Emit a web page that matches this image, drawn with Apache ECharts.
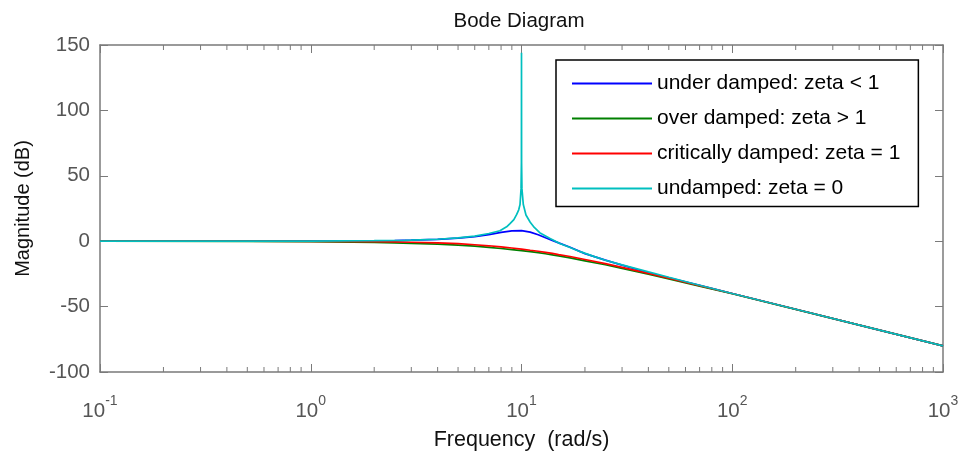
<!DOCTYPE html>
<html>
<head>
<meta charset="utf-8">
<script src="https://cdn.jsdelivr.net/npm/echarts@6/dist/echarts.min.js"></script>
<style>
  html, body { margin: 0; padding: 0; background: #fff; }
  #chart { width: 963px; height: 461px; }
</style>
</head>
<body>
<div id="chart"></div>
<script>
// Frequency samples (rad/s) shared by the damped responses
const freqDamped = [0.1, 0.5, 1, 2, 2.5, 3, 4, 5, 6, 7, 8, 9, 10, 11, 12, 13, 14, 15, 17, 20, 25, 30, 40, 50, 70, 100, 200, 500, 1000];

// Magnitude (dB) for each damping case
const underDamped = [0, 0, 0.1, 0.3, 0.5, 0.8, 1.4, 2.3, 3.5, 5, 6.7, 7.9, 8.1, 6.9, 4.9, 2.6, 0.6, -1.3, -4.6, -9.5, -14.5, -18.3, -24.1, -28, -33.8, -40, -52, -68, -80];
const overDamped = [0, -0.1, -0.3, -1, -1.3, -1.6, -2.2, -3, -3.8, -4.7, -5.6, -6.4, -7.2, -8, -8.8, -9.6, -10.4, -11.2, -12.8, -15, -18, -20.8, -25.2, -28.8, -34.3, -40.2, -52.1, -68, -80];
const criticallyDamped = [0, 0, -0.1, -0.3, -0.5, -0.8, -1.3, -1.9, -2.7, -3.5, -4.3, -5.2, -6, -6.9, -7.7, -8.5, -9.3, -10.2, -11.7, -14, -17.2, -20, -24.6, -28.3, -34, -40, -52, -68, -80];

// Undamped response, sampled more densely around the resonance
const freqUndamped = [0.1, 0.5, 1, 2, 2.8, 3, 4, 5, 6, 7, 7.9, 8.5, 8.82, 9.2, 9.49, 9.7, 9.84, 9.95, 9.99, 10, 10.01, 10.05, 10.2, 10.5, 11, 11.5, 12.2, 13.6, 15.2, 17, 19, 22, 25, 30, 40, 50, 70, 100, 200, 500, 1000];
const unDamped = [0, 0, 0.1, 0.4, 0.7, 0.8, 1.5, 2.5, 3.9, 5.9, 8, 11, 13.5, 16.5, 20.5, 24, 28, 40, 60, 144, 60, 40, 28, 20, 14.5, 10.5, 6.5, 2.3, -1.8, -4.8, -8, -11.6, -14.6, -18.1, -23.5, -27.6, -33.7, -40, -52, -68, -80];

const seriesNames = ['under damped: zeta < 1', 'over damped: zeta > 1', 'critically damped: zeta = 1', 'undamped: zeta = 0'];
const seriesColors = ['#0000ff', '#008000', '#ff0000', '#00bfbf'];

// Axis settings
const xMin = 0.1, xMax = 1000;
const yMin = -100, yMax = 150, yStep = 50;
const minorTicks = [];
[0.1, 1, 10, 100].forEach(d => { for (let k = 2; k <= 9; k++) minorTicks.push(d * k); });

const FONT = "'Liberation Sans', Arial, Helvetica, sans-serif";
const AXIS_GRAY = '#7a7a7a';

function pairs(xs, ys) { return xs.map((x, i) => [x, ys[i]]); }

function lineSeries(name, color, xs, ys) {
  return {
    name: name,
    type: 'line',
    data: pairs(xs, ys),
    symbol: 'none',
    showSymbol: false,
    sampling: null,
    lineStyle: { color: color, width: 1.7 },
    itemStyle: { color: color },
    xAxisIndex: 0,
    yAxisIndex: 0,
    z: 3
  };
}

const chart = echarts.init(document.getElementById('chart'), null, { renderer: 'canvas' });

const hiddenAxisLabel = { show: false };
const tickStyle = { show: true, inside: true, length: 8, lineStyle: { color: AXIS_GRAY, width: 1 } };
const lineStyle = { show: true, onZero: false, lineStyle: { color: AXIS_GRAY, width: 1.5 } };

chart.setOption({
  animation: false,
  backgroundColor: '#ffffff',
  title: {
    text: 'Bode Diagram',
    left: 514,
    top: 6,
    textAlign: 'center',
    textStyle: { fontFamily: FONT, fontSize: 20.5, fontWeight: 'normal', color: '#111' }
  },
  grid: { left: 100, right: 20, top: 45, bottom: 89, containLabel: false },
  legend: {
    data: seriesNames.map((n, i) => ({ name: n, icon: 'rect', itemStyle: { color: seriesColors[i] } })),
    orient: 'vertical',
    left: 556,
    top: 60,
    itemWidth: 80,
    itemHeight: 2,
    itemGap: 14,
    padding: [13, 18, 7.5, 16],
    backgroundColor: '#ffffff',
    borderColor: '#000000',
    borderWidth: 1.5,
    borderRadius: 0,
    textStyle: { fontFamily: FONT, fontSize: 21, lineHeight: 21, color: '#000' },
    z: 10
  },
  xAxis: [
    {
      type: 'log',
      logBase: 10,
      min: xMin,
      max: xMax,
      position: 'bottom',
      name: 'Frequency  (rad/s)',
      nameLocation: 'middle',
      nameGap: 57,
      nameTextStyle: { fontFamily: FONT, fontSize: 21.5, color: '#111' },
      axisLine: lineStyle,
      axisTick: tickStyle,
      splitLine: { show: false },
      axisLabel: {
        margin: 22,
        formatter: function (v) {
          const e = Math.round(Math.log10(v));
          return '{b|10}{e|' + e + '}';
        },
        rich: {
          b: { fontFamily: FONT, fontSize: 20.5, color: '#555', lineHeight: 34 },
          e: { fontFamily: FONT, fontSize: 14, color: '#555', verticalAlign: 'top', lineHeight: 14 }
        }
      }
    },
    {
      type: 'log',
      logBase: 10,
      min: xMin,
      max: xMax,
      position: 'top',
      axisLine: lineStyle,
      axisTick: tickStyle,
      axisLabel: hiddenAxisLabel,
      splitLine: { show: false }
    }
  ],
  yAxis: [
    {
      type: 'value',
      min: yMin,
      max: yMax,
      interval: yStep,
      position: 'left',
      name: 'Magnitude (dB)',
      nameLocation: 'middle',
      nameGap: 67,
      nameTextStyle: { fontFamily: FONT, fontSize: 20, color: '#111' },
      axisLine: lineStyle,
      axisTick: tickStyle,
      splitLine: { show: false },
      axisLabel: { margin: 10, fontFamily: FONT, fontSize: 20.5, color: '#555' }
    },
    {
      type: 'value',
      min: yMin,
      max: yMax,
      interval: yStep,
      position: 'right',
      axisLine: lineStyle,
      axisTick: tickStyle,
      axisLabel: hiddenAxisLabel,
      splitLine: { show: false }
    }
  ],
  series: [
    {
      // minor decade ticks (2..9) along the bottom and top edges
      type: 'custom',
      silent: true,
      xAxisIndex: 0,
      yAxisIndex: 0,
      data: minorTicks.map(v => [v, yMin]),
      encode: { x: 0, y: 1 },
      clip: false,
      z: 1,
      renderItem: function (params, api) {
        const v = api.value(0);
        const pb = api.coord([v, yMin]);
        const pt = api.coord([v, yMax]);
        const st = { stroke: AXIS_GRAY, lineWidth: 1 };
        return {
          type: 'group',
          children: [
            { type: 'line', shape: { x1: pb[0], y1: pb[1], x2: pb[0], y2: pb[1] - 5 }, style: st },
            { type: 'line', shape: { x1: pt[0], y1: pt[1], x2: pt[0], y2: pt[1] + 5 }, style: st }
          ]
        };
      }
    },
    lineSeries(seriesNames[0], seriesColors[0], freqDamped, underDamped),
    lineSeries(seriesNames[1], seriesColors[1], freqDamped, overDamped),
    lineSeries(seriesNames[2], seriesColors[2], freqDamped, criticallyDamped),
    lineSeries(seriesNames[3], seriesColors[3], freqUndamped, unDamped)
  ]
});
</script>
</body>
</html>
